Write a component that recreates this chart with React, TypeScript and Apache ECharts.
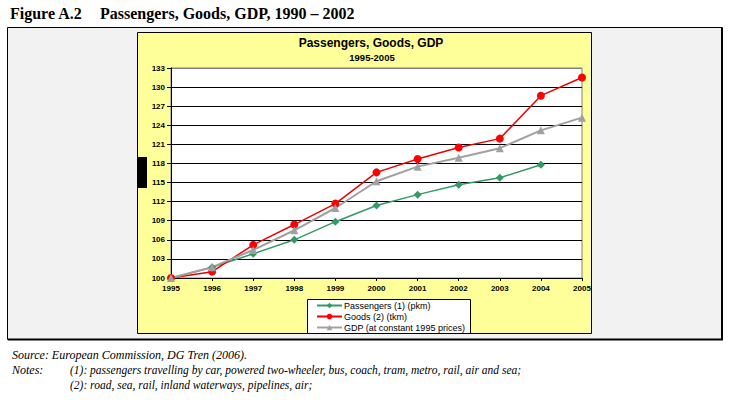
import React, { useEffect, useRef } from "react";
import * as echarts from "echarts";

const years = ["1995", "1996", "1997", "1998", "1999", "2000", "2001", "2002", "2003", "2004", "2005"];
const passengers = [100, 101.7, 103.8, 106.0, 108.85, 111.4, 113.1, 114.65, 115.75, 117.8, null];
const goods = [100, 101.0, 105.2, 108.4, 111.7, 116.6, 118.7, 120.5, 121.9, 128.65, 131.5];
const gdp = [100, 101.7, 104.4, 107.5, 111.0, 115.2, 117.5, 118.9, 120.4, 123.2, 125.2];
const seriesNames = ["Passengers (1) (pkm)", "Goods (2) (tkm)", "GDP (at constant 1995 prices)"];

const headerLabel = "Figure A.2";
const headerTitle = "Passengers, Goods, GDP, 1990 – 2002";
const chartTitle = "Passengers, Goods, GDP";
const chartSubtitle = "1995-2005";
const sourceText = "Source: European Commission, DG Tren (2006).";
const notesLabel = "Notes:";
const note1 = "(1): passengers travelling by car, powered two-wheeler, bus, coach, tram, metro, rail, air and sea;";
const note2 = "(2): road, sea, rail, inland waterways, pipelines, air;";

export default function App() {
  const ref = useRef<HTMLDivElement>(null);
  useEffect(() => {
    if (!ref.current) return;
    const chart = echarts.init(ref.current, undefined, { renderer: "svg" });
    const sans = "Liberation Sans, Arial, sans-serif";
    const serif = "Liberation Serif, Times New Roman, serif";
    const gridColors = ["#000", "#000", "#000", "#000", "#000", "#000", "#000", "#000", "#000", "#000", "#000", "#808080"];
    chart.setOption({
      animation: false,
      backgroundColor: "#ffffff",
      graphic: [
        { type: "rect", z: -10, shape: { x: 7.5, y: 27.5, width: 715, height: 312 }, style: { fill: "#f2f2f2", stroke: "#000", lineWidth: 1 } },
        { type: "line", z: -9, shape: { x1: 722, y1: 28, x2: 722, y2: 340 }, style: { stroke: "#000", lineWidth: 2 } },
        { type: "line", z: -9, shape: { x1: 8, y1: 339.5, x2: 723, y2: 339.5 }, style: { stroke: "#000", lineWidth: 2 } },
        { type: "rect", z: -8, shape: { x: 137.5, y: 32.5, width: 454, height: 301 }, style: { fill: "#ffff99", stroke: "#000", lineWidth: 1 } },
        { type: "rect", z: -7, shape: { x: 138, y: 157, width: 9, height: 31 }, style: { fill: "#000" } },
        { type: "rect", z: 1, shape: { x: 307.5, y: 299.5, width: 163, height: 34 }, style: { fill: "#fff", stroke: "#000", lineWidth: 1 } },
        { type: "text", style: { text: headerLabel, x: 10, y: 13, font: `bold 16px ${serif}`, fill: "#000", textVerticalAlign: "middle" } },
        { type: "text", style: { text: headerTitle, x: 100, y: 13, font: `bold 16px ${serif}`, fill: "#000", textVerticalAlign: "middle" } },
        { type: "text", style: { text: chartTitle, x: 371, y: 43, font: `bold 12px ${sans}`, fill: "#000", textAlign: "center", textVerticalAlign: "middle" } },
        { type: "text", style: { text: chartSubtitle, x: 372, y: 57, font: `bold 9.5px ${sans}`, fill: "#000", textAlign: "center", textVerticalAlign: "middle" } },
        { type: "text", style: { text: sourceText, x: 12, y: 355, font: `italic 12px ${serif}`, fill: "#000", textVerticalAlign: "middle" } },
        { type: "text", style: { text: notesLabel, x: 12, y: 370, font: `italic 12px ${serif}`, fill: "#000", textVerticalAlign: "middle" } },
        { type: "text", style: { text: note1, x: 70, y: 370, font: `italic 11.5px ${serif}`, fill: "#000", textVerticalAlign: "middle" } },
        { type: "text", style: { text: note2, x: 70, y: 385, font: `italic 11.5px ${serif}`, fill: "#000", textVerticalAlign: "middle" } },
      ],
      grid: {
        left: 171,
        right: 736 - 582,
        top: 68,
        bottom: 400 - 278,
        show: true,
        backgroundColor: "#ffffff",
        borderColor: "#808080",
        borderWidth: 1,
        z: 0,
      },
      legend: {
        orient: "vertical",
        left: 310,
        top: 301,
        itemWidth: 25,
        itemHeight: 7,
        itemGap: 2,
        padding: [0, 4, 0, 6],
        textStyle: { fontFamily: sans, fontSize: 9, lineHeight: 9, color: "#000", padding: [0, 0, 0, -3] },
        data: seriesNames,
        z: 5,
      },
      xAxis: {
        type: "category",
        data: years,
        boundaryGap: false,
        axisLine: { lineStyle: { color: "#000", width: 1 } },
        axisTick: { show: true, length: 3, lineStyle: { color: "#000" } },
        axisLabel: { fontFamily: sans, fontSize: 8, fontWeight: "bold", color: "#000", margin: 6 },
        splitLine: { show: false },
      },
      yAxis: {
        type: "value",
        min: 100,
        max: 133,
        interval: 3,
        axisLine: { show: true, lineStyle: { color: "#000", width: 1 } },
        axisTick: { show: true, length: 4, lineStyle: { color: "#000" } },
        axisLabel: { fontFamily: sans, fontSize: 8, fontWeight: "bold", color: "#000", margin: 6 },
        splitLine: { show: true, lineStyle: { color: gridColors, width: 1 } },
      },
      series: [
        {
          name: seriesNames[0],
          type: "line",
          data: passengers,
          color: "#339966",
          symbol: "diamond",
          symbolSize: 8,
          lineStyle: { width: 1.5, color: "#339966" },
          itemStyle: { color: "#339966" },
        },
        {
          name: seriesNames[1],
          type: "line",
          data: goods,
          color: "#ff0000",
          symbol: "circle",
          symbolSize: 8,
          lineStyle: { width: 1.5, color: "#ee0000" },
          itemStyle: { color: "#ff0000" },
        },
        {
          name: seriesNames[2],
          type: "line",
          data: gdp,
          color: "#a0a0a0",
          symbol: "triangle",
          symbolSize: 8,
          lineStyle: { width: 2, color: "#a0a0a0" },
          itemStyle: { color: "#a0a0a0" },
        },
      ],
    });
    return () => chart.dispose();
  }, []);
  return <div ref={ref} style={{ position: "absolute", left: 0, top: 0, width: 736, height: 400 }} />;
}
